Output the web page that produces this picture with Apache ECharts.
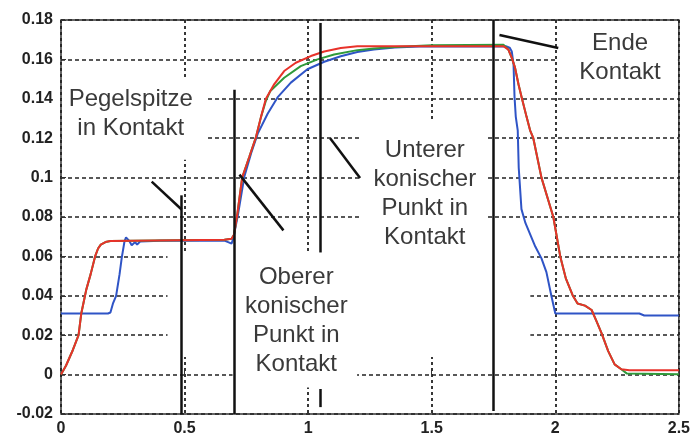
<!DOCTYPE html>
<html>
<head>
	<title>Kontakt</title>
	<meta charset="utf-8">
	<style>
		html, body {
			margin: 0;
			padding: 0;
			background: #fff;
		}
		#chart {
			width: 693px;
			height: 437px;
		}
	</style>
	<script src="https://cdn.jsdelivr.net/npm/echarts/dist/echarts.min.js"></script>
</head>
<body>

<div id="chart"></div>

<script>

var xTicks = [0, 0.5, 1, 1.5, 2, 2.5];
var yTicks = [-0.02, 0, 0.02, 0.04, 0.06, 0.08, 0.1, 0.12, 0.14, 0.16, 0.18];

var blueData = [
	[0, 0.031], [0.19, 0.031], [0.2, 0.0315], [0.21, 0.036], [0.223, 0.040], [0.237, 0.051],
	[0.246, 0.0595], [0.257, 0.0677], [0.263, 0.0697], [0.27, 0.069], [0.277, 0.0677],
	[0.286, 0.0657], [0.293, 0.066], [0.3, 0.0673], [0.308, 0.066], [0.32, 0.0675],
	[0.4, 0.068], [0.661, 0.068], [0.681, 0.067], [0.69, 0.0665], [0.697, 0.069],
	[0.715, 0.0805], [0.742, 0.1006], [0.769, 0.1123], [0.796, 0.1223], [0.836, 0.1324],
	[0.876, 0.1407], [0.93, 0.1482], [0.997, 0.155], [1.065, 0.1588], [1.132, 0.1616],
	[1.199, 0.1638], [1.266, 0.165], [1.35, 0.166], [1.45, 0.1665], [1.8, 0.1667],
	[1.815, 0.166], [1.824, 0.164], [1.831, 0.1575], [1.835, 0.141], [1.84, 0.131],
	[1.848, 0.124], [1.852, 0.105], [1.863, 0.084], [1.879, 0.077], [1.919, 0.065],
	[1.944, 0.059], [1.964, 0.052], [1.984, 0.040], [2.0, 0.031], [2.34, 0.031],
	[2.36, 0.030], [2.5, 0.030]
];

var greenData = [
	[0, 0], [0.02, 0.0045], [0.048, 0.0125], [0.071, 0.02], [0.082, 0.031], [0.092, 0.037],
	[0.102, 0.043], [0.12, 0.051], [0.138, 0.06], [0.15, 0.064], [0.161, 0.066],
	[0.18, 0.0673], [0.2, 0.0678], [0.661, 0.0685], [0.69, 0.069], [0.70, 0.071],
	[0.714, 0.082], [0.733, 0.1], [0.762, 0.1106], [0.789, 0.1206], [0.809, 0.1307],
	[0.829, 0.139], [0.847, 0.144], [0.903, 0.1507], [0.97, 0.1566], [1.038, 0.16],
	[1.105, 0.1625], [1.199, 0.1647], [1.266, 0.1655], [1.35, 0.1663], [1.5, 0.1672],
	[1.79, 0.1674], [1.81, 0.165], [1.824, 0.1608], [1.837, 0.1558], [1.851, 0.1474],
	[1.864, 0.1407], [1.884, 0.1307], [1.898, 0.124], [1.911, 0.12], [1.944, 0.1],
	[1.992, 0.08], [2.02, 0.06], [2.043, 0.0487], [2.07, 0.0403], [2.09, 0.0361],
	[2.12, 0.035], [2.147, 0.0328], [2.167, 0.027], [2.187, 0.0211], [2.214, 0.0119],
	[2.24, 0.0052], [2.267, 0.0027], [2.29, 0.0005], [2.5, 0.0002]
];

var redData = [
	[0, 0], [0.02, 0.0045], [0.048, 0.0125], [0.071, 0.02], [0.082, 0.031], [0.092, 0.037],
	[0.102, 0.043], [0.12, 0.051], [0.138, 0.06], [0.15, 0.064], [0.161, 0.066],
	[0.18, 0.0673], [0.2, 0.0678], [0.661, 0.0685], [0.69, 0.069], [0.70, 0.071],
	[0.714, 0.082], [0.733, 0.1], [0.762, 0.1106], [0.789, 0.1206], [0.809, 0.1307],
	[0.829, 0.14], [0.863, 0.1475], [0.903, 0.1541], [0.95, 0.1583], [1.011, 0.1617],
	[1.065, 0.164], [1.132, 0.1658], [1.199, 0.1667], [1.79, 0.1667], [1.81, 0.165],
	[1.824, 0.1608], [1.837, 0.1558], [1.851, 0.1474], [1.864, 0.1407], [1.884, 0.1307],
	[1.898, 0.124], [1.911, 0.12], [1.944, 0.1], [1.992, 0.08], [2.02, 0.06],
	[2.043, 0.0487], [2.07, 0.0403], [2.09, 0.0361], [2.12, 0.035], [2.147, 0.0328],
	[2.167, 0.027], [2.187, 0.0211], [2.214, 0.0119], [2.24, 0.0052], [2.267, 0.0027],
	[2.3, 0.0022], [2.5, 0.0022]
];

// black marker lines drawn on the figure: [x1, y1, x2, y2]
var blackLines = [
	[0.488, 0.091, 0.488, -0.02],
	[0.699, 0.1446, 0.699, -0.02],
	[1.048, 0.1785, 1.048, 0.062],
	[1.048, -0.0073, 1.048, -0.0165],
	[1.75, 0.18, 1.75, -0.0185],
	[0.367, 0.098, 0.488, 0.0838],
	[0.722, 0.1015, 0.90, 0.0732],
	[1.089, 0.12, 1.21, 0.0998],
	[1.774, 0.1724, 2.012, 0.1658]
];

// annotations: [x, y, text]
var notes = [
	[0.282, 0.1322, 'Pegelspitze\nin Kontakt'],
	[0.952, 0.0273, 'Oberer\nkonischer\nPunkt in\nKontakt'],
	[1.472, 0.0919, 'Unterer\nkonischer\nPunkt in\nKontakt'],
	[2.262, 0.161, 'Ende\nKontakt']
];

// white patches where the grid is hidden behind the labels: [x1, y1, x2, y2]
var blanks = [
	[0.004, 0.1511, 0.589, 0.1091],
	[0.431, 0.0625, 1.899, 0.0089],
	[0.694, 0.0625, 1.198, -0.0065],
	[1.214, 0.1282, 1.718, 0.0625],
	[2.008, 0.1795, 2.496, 0.1495]
];

var chart = echarts.init(document.getElementById('chart'));

function lineSeries (data, color) {
	return {
		type: 'line',
		data: data,
		showSymbol: false,
		z: 2,
		lineStyle: { color: color, width: 2 }
	};
}

var labelStyle = {
	color: '#222',
	fontSize: 16,
	fontWeight: 'bold',
	fontFamily: 'Liberation Sans, Arial, sans-serif'
};

var option = {
	animation: false,
	backgroundColor: '#fff',
	grid: {
		left: 61,
		right: 12,
		top: 20,
		bottom: 22,
		show: true,
		borderColor: '#333',
		borderWidth: 1.5
	},
	xAxis: {
		type: 'value',
		min: xTicks[0],
		max: xTicks[xTicks.length - 1],
		interval: 0.5,
		axisLine: { show: false },
		axisTick: { show: true, inside: true, length: 5, lineStyle: { color: '#333' } },
		axisLabel: Object.assign({ margin: 7 }, labelStyle),
		splitLine: { lineStyle: { color: '#222', type: [3, 3], width: 1.8 } }
	},
	yAxis: {
		type: 'value',
		min: yTicks[0],
		max: yTicks[yTicks.length - 1],
		interval: 0.02,
		axisLine: { show: false },
		axisTick: { show: true, inside: true, length: 5, lineStyle: { color: '#333' } },
		axisLabel: Object.assign({ margin: 8 }, labelStyle),
		splitLine: { lineStyle: { color: '#222', type: [4, 3], width: 1.5 } }
	},
	series: [
		{
			type: 'line',
			data: [[0, -0.02]],
			showSymbol: false,
			z: 1,
			lineStyle: { opacity: 0 },
			markArea: {
				silent: true,
				itemStyle: { color: '#fff', opacity: 1 },
				data: blanks.map(function (b) {
					return [{ coord: [b[0], b[1]] }, { coord: [b[2], b[3]] }];
				})
			}
		},
		lineSeries(blueData, '#2f54c6'),
		lineSeries(greenData, '#2f9a3a'),
		lineSeries(redData, '#e8322a'),
		{
			type: 'line',
			data: [[0, -0.02]],
			showSymbol: false,
			z: 4,
			lineStyle: { opacity: 0 },
			markLine: {
				silent: true,
				symbol: 'none',
				label: { show: false },
				lineStyle: { color: '#111', width: 2.5, type: 'solid' },
				data: blackLines.map(function (l) {
					return [{ coord: [l[0], l[1]] }, { coord: [l[2], l[3]] }];
				})
			},
			markPoint: {
				silent: true,
				symbol: 'circle',
				symbolSize: 1,
				itemStyle: { color: 'rgba(0,0,0,0)' },
				label: {
					show: true,
					position: 'inside',
					align: 'center',
					verticalAlign: 'middle',
					color: '#3a3a3a',
					fontSize: 24,
					lineHeight: 29,
					fontFamily: 'Liberation Sans, Arial, sans-serif'
				},
				data: notes.map(function (n) {
					return { coord: [n[0], n[1]], label: { formatter: n[2] } };
				})
			}
		}
	]
};

chart.setOption(option);

</script>
</body>
</html>
